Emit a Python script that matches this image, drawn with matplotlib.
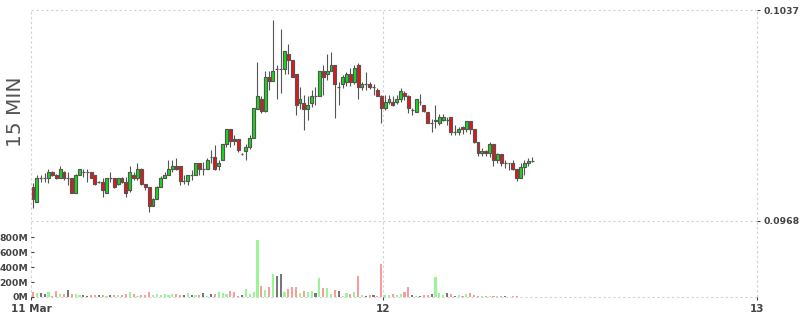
import numpy as np
import matplotlib
matplotlib.use("Agg")
import matplotlib.pyplot as plt

# 15 minute candles, 11 Mar -> 12 Mar
opens = [
    0.09791, 0.09742, 0.09821, 0.09821, 0.09821, 0.09840, 0.09830, 0.09821, 0.09840, 0.09821,
    0.09821, 0.09772, 0.09830, 0.09840, 0.09840, 0.09840, 0.09830, 0.09808, 0.09808, 0.09772,
    0.09821, 0.09821, 0.09801, 0.09821, 0.09808, 0.09781, 0.09830, 0.09821, 0.09850, 0.09801,
    0.09791, 0.09729, 0.09752, 0.09791, 0.09821, 0.09830, 0.09850, 0.09860, 0.09860, 0.09811,
    0.09811, 0.09830, 0.09830, 0.09870, 0.09850, 0.09850, 0.09889, 0.09889, 0.09860, 0.09880,
    0.09932, 0.09981, 0.09948, 0.09948, 0.09899, 0.09909, 0.09922, 0.09951, 0.10046, 0.10079,
    0.10040, 0.10151, 0.10138, 0.10177, 0.10177, 0.10177, 0.10226, 0.10207, 0.10161, 0.10066,
    0.10066, 0.10046, 0.10066, 0.10089, 0.10089, 0.10171, 0.10161, 0.10171, 0.10190, 0.10118,
    0.10128, 0.10135, 0.10161, 0.10135, 0.10190, 0.10118, 0.10128, 0.10128, 0.10118, 0.10108,
    0.10089, 0.10050, 0.10069, 0.10069, 0.10069, 0.10079, 0.10099, 0.10089, 0.10043, 0.10037,
    0.10069, 0.10059, 0.10037, 0.10001, 0.10007, 0.10001, 0.10010, 0.10010, 0.10020, 0.09971,
    0.09971, 0.09987, 0.09981, 0.10007, 0.09981, 0.09938, 0.09902, 0.09909, 0.09902, 0.09932,
    0.09880, 0.09899, 0.09870, 0.09870, 0.09870, 0.09850, 0.09821, 0.09857, 0.09870, 0.09876,
]
highs = [
    0.09804, 0.09830, 0.09830, 0.09837, 0.09850, 0.09844, 0.09834, 0.09860, 0.09844, 0.09840,
    0.09821, 0.09834, 0.09850, 0.09850, 0.09850, 0.09840, 0.09830, 0.09811, 0.09821, 0.09821,
    0.09840, 0.09821, 0.09821, 0.09824, 0.09824, 0.09860, 0.09840, 0.09870, 0.09853, 0.09801,
    0.09791, 0.09755, 0.09795, 0.09827, 0.09840, 0.09880, 0.09880, 0.09886, 0.09860, 0.09830,
    0.09830, 0.09847, 0.09870, 0.09870, 0.09873, 0.09886, 0.09912, 0.09929, 0.09880, 0.09932,
    0.09981, 0.09981, 0.09961, 0.09948, 0.09902, 0.09932, 0.09961, 0.10050, 0.10200, 0.10089,
    0.10171, 0.10171, 0.10337, 0.10190, 0.10308, 0.10236, 0.10259, 0.10207, 0.10161, 0.10118,
    0.10092, 0.10089, 0.10108, 0.10118, 0.10171, 0.10190, 0.10226, 0.10233, 0.10190, 0.10135,
    0.10157, 0.10167, 0.10180, 0.10190, 0.10197, 0.10135, 0.10167, 0.10135, 0.10128, 0.10115,
    0.10092, 0.10092, 0.10092, 0.10089, 0.10092, 0.10115, 0.10105, 0.10092, 0.10050, 0.10079,
    0.10095, 0.10059, 0.10037, 0.10014, 0.10059, 0.10030, 0.10030, 0.10020, 0.10020, 0.09994,
    0.09987, 0.09991, 0.10007, 0.10007, 0.09981, 0.09938, 0.09919, 0.09912, 0.09938, 0.09932,
    0.09902, 0.09899, 0.09880, 0.09870, 0.09880, 0.09850, 0.09870, 0.09880, 0.09886, 0.09889,
]
lows = [
    0.09723, 0.09742, 0.09808, 0.09808, 0.09804, 0.09827, 0.09817, 0.09821, 0.09814, 0.09798,
    0.09772, 0.09772, 0.09830, 0.09824, 0.09808, 0.09821, 0.09798, 0.09804, 0.09759, 0.09772,
    0.09808, 0.09788, 0.09798, 0.09804, 0.09759, 0.09775, 0.09814, 0.09814, 0.09798, 0.09781,
    0.09709, 0.09729, 0.09752, 0.09791, 0.09821, 0.09830, 0.09840, 0.09847, 0.09798, 0.09801,
    0.09798, 0.09814, 0.09830, 0.09830, 0.09830, 0.09850, 0.09870, 0.09847, 0.09847, 0.09880,
    0.09922, 0.09922, 0.09929, 0.09906, 0.09896, 0.09880, 0.09916, 0.09951, 0.10046, 0.10033,
    0.10037, 0.10108, 0.10138, 0.10079, 0.10099, 0.10161, 0.10161, 0.10151, 0.10027, 0.10046,
    0.09978, 0.10010, 0.10053, 0.10059, 0.10089, 0.10092, 0.10141, 0.10171, 0.10017, 0.10059,
    0.10115, 0.10121, 0.10121, 0.10128, 0.10079, 0.10108, 0.10108, 0.10112, 0.10092, 0.10089,
    0.10001, 0.10043, 0.10063, 0.10056, 0.10063, 0.10069, 0.10076, 0.10033, 0.10027, 0.10037,
    0.10059, 0.10037, 0.10001, 0.09971, 0.09984, 0.09994, 0.10007, 0.09994, 0.09961, 0.09961,
    0.09961, 0.09965, 0.09971, 0.09965, 0.09935, 0.09893, 0.09893, 0.09893, 0.09889, 0.09860,
    0.09870, 0.09860, 0.09853, 0.09847, 0.09847, 0.09811, 0.09821, 0.09830, 0.09860, 0.09873,
]
closes = [
    0.09752, 0.09821, 0.09821, 0.09821, 0.09840, 0.09830, 0.09821, 0.09850, 0.09821, 0.09821,
    0.09772, 0.09830, 0.09850, 0.09840, 0.09840, 0.09821, 0.09801, 0.09808, 0.09781, 0.09821,
    0.09821, 0.09791, 0.09821, 0.09808, 0.09772, 0.09840, 0.09821, 0.09850, 0.09801, 0.09791,
    0.09729, 0.09752, 0.09791, 0.09821, 0.09830, 0.09850, 0.09860, 0.09850, 0.09811, 0.09811,
    0.09830, 0.09830, 0.09870, 0.09850, 0.09850, 0.09880, 0.09889, 0.09850, 0.09870, 0.09932,
    0.09981, 0.09942, 0.09942, 0.09912, 0.09899, 0.09922, 0.09951, 0.10050, 0.10089, 0.10040,
    0.10151, 0.10138, 0.10171, 0.10177, 0.10177, 0.10236, 0.10207, 0.10151, 0.10059, 0.10079,
    0.10046, 0.10059, 0.10089, 0.10089, 0.10171, 0.10151, 0.10171, 0.10190, 0.10128, 0.10118,
    0.10151, 0.10161, 0.10135, 0.10180, 0.10118, 0.10128, 0.10128, 0.10118, 0.10118, 0.10089,
    0.10050, 0.10069, 0.10079, 0.10059, 0.10079, 0.10105, 0.10089, 0.10050, 0.10043, 0.10079,
    0.10069, 0.10040, 0.10001, 0.10001, 0.10010, 0.10020, 0.10020, 0.10010, 0.09971, 0.09971,
    0.09981, 0.09981, 0.10007, 0.09981, 0.09938, 0.09902, 0.09909, 0.09902, 0.09932, 0.09880,
    0.09899, 0.09870, 0.09870, 0.09870, 0.09850, 0.09821, 0.09857, 0.09870, 0.09876, 0.09876,
]
# volume in millions
volumes = [
    73, 56, 56, 43, 73, 17, 82, 39, 43, 95, 43, 35, 26, 30, 13, 22, 30, 26, 22, 17,
    30, 30, 26, 22, 35, 69, 43, 17, 30, 22, 73, 22, 43, 26, 35, 22, 43, 35, 30, 22,
    56, 31, 31, 22, 57, 18, 44, 44, 71, 57, 44, 84, 71, 18, 31, 110, 44, 71, 760, 150,
    97, 137, 309, 283, 309, 71, 110, 137, 137, 57, 84, 71, 84, 57, 256, 124, 124, 44, 97, 84,
    18, 57, 44, 71, 283, 31, 18, 31, 31, 18, 442, 31, 31, 36, 27, 40, 67, 133, 27, 13,
    13, 22, 27, 40, 266, 53, 27, 53, 40, 13, 27, 13, 40, 53, 27, 13, 13, 13, 13, 13,
    13, 13, 13, 4, 9, 9, 2, 2, 2, 2,
]
day_labels = ["11 Mar", "12", "13"]
price_ticks = [0.0968, 0.1037]
vol_ticks = [0, 200, 400, 600, 800]
vol_labels = ["0M", "200M", "400M", "600M", "800M"]

W, H = 800, 315
TXT = "#444444"
GRID = "#d4d4d4"
EDGE = "#555555"


def rect(x0, y0, x1, y1):
    return [x0 / W, 1 - y1 / H, (x1 - x0) / W, (y1 - y0) / H]


fig = plt.figure(figsize=(W / 100, H / 100), dpi=100)
ax = fig.add_axes(rect(31, 10, 757, 229))
vax = fig.add_axes(rect(31, 229, 757, 297), sharex=ax)

o = np.array(opens)
c = np.array(closes)
x = np.arange(len(o))
up = c > o
down = c < o
flat = c == o

# wicks
ax.vlines(x, lows, highs, color=EDGE, linewidth=0.8, zorder=2)
# bodies
body_w = 0.75
lo = np.minimum(o, c)
hgt = np.abs(c - o)
ax.bar(x[up], hgt[up], bottom=lo[up], width=body_w, color="#12e012",
       edgecolor=EDGE, linewidth=0.85, zorder=3)
ax.bar(x[down], hgt[down], bottom=lo[down], width=body_w, color="#f01010",
       edgecolor=EDGE, linewidth=0.85, zorder=3)
ax.hlines(o[flat], x[flat] - body_w / 2, x[flat] + body_w / 2, color=EDGE,
          linewidth=0.9, zorder=3)

# volume bars
vcol = np.where(up, "#99f596", np.where(down, "#f89c9c", "#777777"))
vax.bar(x, volumes, width=0.55, color=vcol, zorder=2)

xmin, xmax = -0.52, 187.1
day_pos = [xmin, 90.45, xmax]
px = 0.0069 / 211
ax.set_xlim(xmin, xmax)
ax.set_ylim(0.0968 - 8 * px, 0.1037)
vax.set_ylim(0, 907)

dash = (0, (2.2, 2.2))
for a in (ax, vax):
    for sp in a.spines.values():
        sp.set_visible(False)
    a.patch.set_alpha(0)
    for d in day_pos:
        a.axvline(d, color=GRID, linewidth=0.8, linestyle=dash, clip_on=False, zorder=0)
for p in price_ticks:
    ax.axhline(p, color=GRID, linewidth=0.8, linestyle=dash, clip_on=False, zorder=0)
vax.axhline(0, color=GRID, linewidth=0.8, linestyle=dash, clip_on=False, zorder=0)

ax.yaxis.tick_right()
ax.set_yticks(price_ticks)
ax.set_yticklabels(["%.4f" % p for p in price_ticks])
ax.tick_params(axis="y", direction="out", length=2.5, width=0.8, color=TXT, pad=2.5,
               labelsize=6.7, labelcolor=TXT)
ax.tick_params(axis="x", bottom=False, labelbottom=False)
for t in ax.get_yticklabels():
    t.set_fontweight("bold")

vax.set_yticks(vol_ticks)
vax.set_yticklabels(vol_labels)
vax.tick_params(axis="y", direction="in", length=2.5, width=0.8, color=TXT, pad=2,
                labelsize=6.7, labelcolor=TXT)
vax.set_xticks(day_pos)
vax.set_xticklabels(day_labels)
vax.tick_params(axis="x", direction="out", length=2, width=0.8, color=TXT, pad=3,
                labelsize=7.5, labelcolor=TXT)
for t in vax.get_yticklabels() + vax.get_xticklabels():
    t.set_fontweight("bold")

fig.text(15.5 / W, 1 - 111.5 / H, "15 MIN", rotation=90, ha="center", va="center",
         fontsize=14.5, color="#555555")

fig.savefig("out.png", dpi=100)
